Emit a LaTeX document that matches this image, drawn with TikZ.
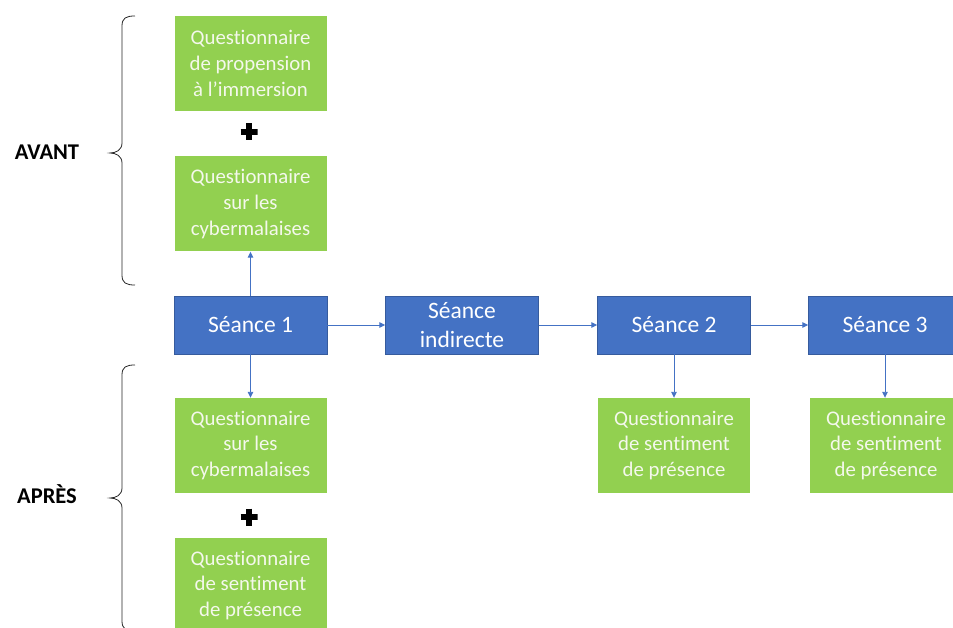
\documentclass[tikz,border=0pt]{standalone}
\usepackage{fontspec}
\setmainfont{Carlito}[Ligatures=NoCommon]
\usetikzlibrary{arrows.meta}
\definecolor{qgreen}{HTML}{92D050}
\definecolor{sblue}{HTML}{4472C4}
\definecolor{qtext}{HTML}{F4F8EC}
\begin{document}
\begin{tikzpicture}[x=1pt,y=-1pt,
  quest/.style={fill=qgreen, draw=none, text=qtext, align=center,
    minimum width=152pt, minimum height=95pt, inner sep=0pt,
    font=\fontsize{20.8}{25.8}\selectfont},
  session/.style={fill=sblue, draw=sblue!80!black, line width=0.4pt, text=white, align=center,
    minimum width=153pt, minimum height=58pt, inner sep=0pt,
    font=\fontsize{23.5}{28.5}\selectfont},
  plussign/.style={minimum size=17pt, inner sep=0pt,
    path picture={\draw[black, line width=5.5pt]
      (path picture bounding box.north) -- (path picture bounding box.south)
      (path picture bounding box.west) -- (path picture bounding box.east);}},
  flow/.style={draw=sblue, line width=0.9pt, -{Triangle[length=6pt,width=5.5pt]}},
  phase/.style={font=\fontsize{22.5}{26}\selectfont\bfseries, text=black},
  bracket/.style={draw=black!85, line width=0.8pt}
]
\useasboundingbox (0,0) rectangle (953,628);

% before the first session
\node[quest] (qprop) at (250.5,63.5) {Questionnaire\\de propension\\à l’immersion};
\node[plussign] (plusA) at (249,132) {};
\node[quest] (qcybA) at (250.5,204) {Questionnaire\\sur les\\cybermalaises};

% sessions
\node[session] (s1) at (250.5,325) {Séance 1};
\node[session] (si) at (462,325) {Séance\\indirecte};
\node[session] (s2) at (674,325) {Séance 2};
\node[session] (s3) at (885,325) {Séance 3};

% after the sessions
\node[quest] (qcybB) at (250.5,445.5) {Questionnaire\\sur les\\cybermalaises};
\node[plussign] (plusB) at (249,517) {};
\node[quest] (qpresB) at (250.5,585.5) {Questionnaire\\de sentiment\\de présence};
\node[quest] (qpres2) at (674,445.5) {Questionnaire\\de sentiment\\de présence};
\node[quest] (qpres3) at (886,445.5) {Questionnaire\\de sentiment\\de présence};

% connectors
\draw[flow] (s1) -- (si);
\draw[flow] (si) -- (s2);
\draw[flow] (s2) -- (s3);
\draw[flow] (s1.north) -- (s1.north |- qcybA.south);
\draw[flow] (s1.south) -- (s1.south |- qcybB.north);
\draw[flow] (s2.south) -- (s2.south |- qpres2.north);
\draw[flow] (s3.south) -- (s3.south |- qpres3.north);

% phase braces and labels
\coordinate (bAtop) at (135,16);
\coordinate (bAtip) at (110,153);
\coordinate (bAbot) at (135,285);
\coordinate (bBtop) at (135,365);
\coordinate (bBtip) at (110,498);
\coordinate (bBbot) at (135,631);
\draw[bracket] (bAtop) .. controls (126,16) and (122,18) .. (122,26)
  -- (122,143) .. controls (122,150) and (116,153) .. (bAtip)
  .. controls (116,153) and (122,156) .. (122,163)
  -- (122,275) .. controls (122,283) and (126,285) .. (bAbot);
\draw[bracket] (bBtop) .. controls (126,365) and (122,367) .. (122,375)
  -- (122,488) .. controls (122,495) and (116,498) .. (bBtip)
  .. controls (116,498) and (122,501) .. (122,508)
  -- (122,621) .. controls (122,629) and (126,631) .. (bBbot);
\node[phase] (avant) at (47,152) {AVANT};
\node[phase] (apres) at (47,494) {APRÈS};
\end{tikzpicture}
\end{document}
